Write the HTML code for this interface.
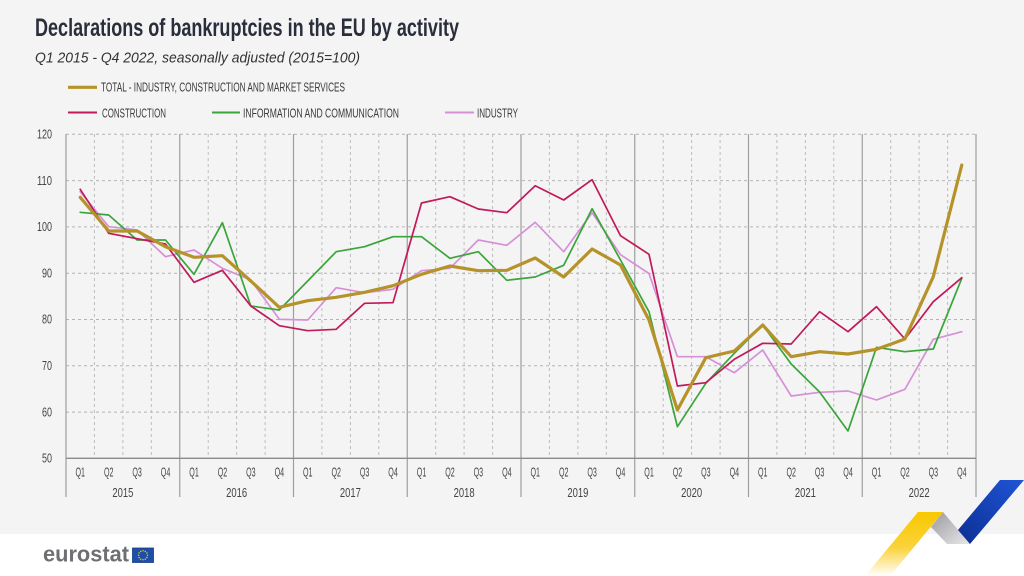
<!DOCTYPE html>
<html>
<head>
<meta charset="utf-8">
<style>
  html,body{margin:0;padding:0;background:#ffffff;}
  svg{display:block;}
  .c{font-family:"Liberation Sans Narrow","Liberation Sans",sans-serif;}
</style>
</head>
<body>
<svg width="1024" height="576" viewBox="0 0 1024 576" xmlns="http://www.w3.org/2000/svg">
  <defs>
    <linearGradient id="gy" x1="0" y1="0" x2="0" y2="1">
      <stop offset="0" stop-color="#f8c800"/>
      <stop offset="0.55" stop-color="#fad23a"/>
      <stop offset="1" stop-color="#ffffff"/>
    </linearGradient>
    <linearGradient id="gg" x1="0" y1="0" x2="1" y2="1">
      <stop offset="0" stop-color="#9a9a9e"/>
      <stop offset="1" stop-color="#e8e8ea"/>
    </linearGradient>
    <linearGradient id="gb" x1="1" y1="0" x2="0" y2="1">
      <stop offset="0" stop-color="#1f55d6"/>
      <stop offset="1" stop-color="#0c2f93"/>
    </linearGradient>
  </defs>

  <!-- backgrounds -->
  <rect x="0" y="0" width="1024" height="534" fill="#f4f4f4"/>
  <rect x="0" y="534" width="1024" height="42" fill="#ffffff"/>

  <!-- title -->
  <text x="35" y="36" font-family="'Liberation Sans Narrow','Liberation Sans',sans-serif" font-weight="bold" font-size="25" fill="#2a2e3b" textLength="424" lengthAdjust="spacingAndGlyphs">Declarations of bankruptcies in the EU by activity</text>
  <text x="35" y="62.5" font-family="'Liberation Sans','Liberation Sans Narrow',sans-serif" font-style="italic" font-size="15" fill="#333333" textLength="325" lengthAdjust="spacingAndGlyphs">Q1 2015 - Q4 2022, seasonally adjusted (2015=100)</text>

  <!-- legend -->
  <line x1="68" y1="87.3" x2="97" y2="87.3" stroke="#b5922a" stroke-width="3.2"/>
  <text class="c" x="101" y="91.7" font-size="12.5" fill="#3a3a3a" textLength="244" lengthAdjust="spacingAndGlyphs">TOTAL - INDUSTRY, CONSTRUCTION AND MARKET SERVICES</text>
  <line x1="68" y1="112.5" x2="97" y2="112.5" stroke="#c01a5a" stroke-width="2"/>
  <text class="c" x="102" y="117.5" font-size="12.5" fill="#3a3a3a" textLength="64" lengthAdjust="spacingAndGlyphs">CONSTRUCTION</text>
  <line x1="212" y1="112.5" x2="240" y2="112.5" stroke="#3aa53a" stroke-width="2"/>
  <text class="c" x="243" y="117.5" font-size="12.5" fill="#3a3a3a" textLength="156" lengthAdjust="spacingAndGlyphs">INFORMATION AND COMMUNICATION</text>
  <line x1="445" y1="112.5" x2="474" y2="112.5" stroke="#d690d8" stroke-width="2"/>
  <text class="c" x="477" y="117.5" font-size="12.5" fill="#3a3a3a" textLength="41" lengthAdjust="spacingAndGlyphs">INDUSTRY</text>

  <!-- horizontal gridlines -->
  <g stroke="#b4b4b4" stroke-width="1" stroke-dasharray="3,3">
    <line x1="66" y1="134.3" x2="976" y2="134.3"/>
    <line x1="66" y1="180.6" x2="976" y2="180.6"/>
    <line x1="66" y1="226.9" x2="976" y2="226.9"/>
    <line x1="66" y1="273.2" x2="976" y2="273.2"/>
    <line x1="66" y1="319.5" x2="976" y2="319.5"/>
    <line x1="66" y1="365.8" x2="976" y2="365.8"/>
    <line x1="66" y1="412.1" x2="976" y2="412.1"/>
  </g>

  <!-- quarter dashed verticals -->
  <g stroke="#bdbdbd" stroke-width="1" stroke-dasharray="3,3">
    <line x1="94.4" y1="134" x2="94.4" y2="458"/>
    <line x1="122.9" y1="134" x2="122.9" y2="458"/>
    <line x1="151.3" y1="134" x2="151.3" y2="458"/>
    <line x1="208.2" y1="134" x2="208.2" y2="458"/>
    <line x1="236.6" y1="134" x2="236.6" y2="458"/>
    <line x1="265.1" y1="134" x2="265.1" y2="458"/>
    <line x1="321.9" y1="134" x2="321.9" y2="458"/>
    <line x1="350.4" y1="134" x2="350.4" y2="458"/>
    <line x1="378.8" y1="134" x2="378.8" y2="458"/>
    <line x1="435.7" y1="134" x2="435.7" y2="458"/>
    <line x1="464.1" y1="134" x2="464.1" y2="458"/>
    <line x1="492.6" y1="134" x2="492.6" y2="458"/>
    <line x1="549.4" y1="134" x2="549.4" y2="458"/>
    <line x1="577.9" y1="134" x2="577.9" y2="458"/>
    <line x1="606.3" y1="134" x2="606.3" y2="458"/>
    <line x1="663.2" y1="134" x2="663.2" y2="458"/>
    <line x1="691.6" y1="134" x2="691.6" y2="458"/>
    <line x1="720.1" y1="134" x2="720.1" y2="458"/>
    <line x1="776.9" y1="134" x2="776.9" y2="458"/>
    <line x1="805.4" y1="134" x2="805.4" y2="458"/>
    <line x1="833.8" y1="134" x2="833.8" y2="458"/>
    <line x1="890.7" y1="134" x2="890.7" y2="458"/>
    <line x1="919.1" y1="134" x2="919.1" y2="458"/>
    <line x1="947.6" y1="134" x2="947.6" y2="458"/>
  </g>

  <!-- year separators -->
  <g stroke="#9e9e9e" stroke-width="1.2">
    <line x1="66" y1="134" x2="66" y2="497"/>
    <line x1="179.75" y1="134" x2="179.75" y2="497"/>
    <line x1="293.5" y1="134" x2="293.5" y2="497"/>
    <line x1="407.25" y1="134" x2="407.25" y2="497"/>
    <line x1="521" y1="134" x2="521" y2="497"/>
    <line x1="634.75" y1="134" x2="634.75" y2="497"/>
    <line x1="748.5" y1="134" x2="748.5" y2="497"/>
    <line x1="862.25" y1="134" x2="862.25" y2="497"/>
    <line x1="976" y1="134" x2="976" y2="497"/>
  </g>
  <!-- x axis -->
  <line x1="66" y1="458.3" x2="976" y2="458.3" stroke="#8a8a8a" stroke-width="1.3"/>

  <!-- y labels -->
  <g class="c" font-size="13" fill="#444444">
    <text x="37" y="138.5" textLength="15" lengthAdjust="spacingAndGlyphs">120</text>
    <text x="37" y="184.8" textLength="15" lengthAdjust="spacingAndGlyphs">110</text>
    <text x="37" y="231.1" textLength="15" lengthAdjust="spacingAndGlyphs">100</text>
    <text x="42" y="277.4" textLength="10" lengthAdjust="spacingAndGlyphs">90</text>
    <text x="42" y="323.7" textLength="10" lengthAdjust="spacingAndGlyphs">80</text>
    <text x="42" y="370" textLength="10" lengthAdjust="spacingAndGlyphs">70</text>
    <text x="42" y="416.3" textLength="10" lengthAdjust="spacingAndGlyphs">60</text>
    <text x="42" y="462.6" textLength="10" lengthAdjust="spacingAndGlyphs">50</text>
  </g>

  <!-- quarter labels -->
  <g class="c" font-size="13" fill="#444444">
    <text x="75.5" y="476.5" textLength="9.5" lengthAdjust="spacingAndGlyphs">Q1</text><text x="104" y="476.5" textLength="9.5" lengthAdjust="spacingAndGlyphs">Q2</text><text x="132.4" y="476.5" textLength="9.5" lengthAdjust="spacingAndGlyphs">Q3</text><text x="160.8" y="476.5" textLength="9.5" lengthAdjust="spacingAndGlyphs">Q4</text>
    <text x="189.3" y="476.5" textLength="9.5" lengthAdjust="spacingAndGlyphs">Q1</text><text x="217.7" y="476.5" textLength="9.5" lengthAdjust="spacingAndGlyphs">Q2</text><text x="246.1" y="476.5" textLength="9.5" lengthAdjust="spacingAndGlyphs">Q3</text><text x="274.6" y="476.5" textLength="9.5" lengthAdjust="spacingAndGlyphs">Q4</text>
    <text x="303" y="476.5" textLength="9.5" lengthAdjust="spacingAndGlyphs">Q1</text><text x="331.5" y="476.5" textLength="9.5" lengthAdjust="spacingAndGlyphs">Q2</text><text x="359.9" y="476.5" textLength="9.5" lengthAdjust="spacingAndGlyphs">Q3</text><text x="388.3" y="476.5" textLength="9.5" lengthAdjust="spacingAndGlyphs">Q4</text>
    <text x="416.8" y="476.5" textLength="9.5" lengthAdjust="spacingAndGlyphs">Q1</text><text x="445.2" y="476.5" textLength="9.5" lengthAdjust="spacingAndGlyphs">Q2</text><text x="473.6" y="476.5" textLength="9.5" lengthAdjust="spacingAndGlyphs">Q3</text><text x="502.1" y="476.5" textLength="9.5" lengthAdjust="spacingAndGlyphs">Q4</text>
    <text x="530.5" y="476.5" textLength="9.5" lengthAdjust="spacingAndGlyphs">Q1</text><text x="559" y="476.5" textLength="9.5" lengthAdjust="spacingAndGlyphs">Q2</text><text x="587.4" y="476.5" textLength="9.5" lengthAdjust="spacingAndGlyphs">Q3</text><text x="615.8" y="476.5" textLength="9.5" lengthAdjust="spacingAndGlyphs">Q4</text>
    <text x="644.3" y="476.5" textLength="9.5" lengthAdjust="spacingAndGlyphs">Q1</text><text x="672.7" y="476.5" textLength="9.5" lengthAdjust="spacingAndGlyphs">Q2</text><text x="701.1" y="476.5" textLength="9.5" lengthAdjust="spacingAndGlyphs">Q3</text><text x="729.6" y="476.5" textLength="9.5" lengthAdjust="spacingAndGlyphs">Q4</text>
    <text x="758" y="476.5" textLength="9.5" lengthAdjust="spacingAndGlyphs">Q1</text><text x="786.5" y="476.5" textLength="9.5" lengthAdjust="spacingAndGlyphs">Q2</text><text x="814.9" y="476.5" textLength="9.5" lengthAdjust="spacingAndGlyphs">Q3</text><text x="843.3" y="476.5" textLength="9.5" lengthAdjust="spacingAndGlyphs">Q4</text>
    <text x="871.8" y="476.5" textLength="9.5" lengthAdjust="spacingAndGlyphs">Q1</text><text x="900.2" y="476.5" textLength="9.5" lengthAdjust="spacingAndGlyphs">Q2</text><text x="928.6" y="476.5" textLength="9.5" lengthAdjust="spacingAndGlyphs">Q3</text><text x="957.1" y="476.5" textLength="9.5" lengthAdjust="spacingAndGlyphs">Q4</text>
  </g>
  <!-- year labels -->
  <g class="c" font-size="13" fill="#444444">
    <text x="112.4" y="497" textLength="21" lengthAdjust="spacingAndGlyphs">2015</text>
    <text x="226.1" y="497" textLength="21" lengthAdjust="spacingAndGlyphs">2016</text>
    <text x="339.9" y="497" textLength="21" lengthAdjust="spacingAndGlyphs">2017</text>
    <text x="453.6" y="497" textLength="21" lengthAdjust="spacingAndGlyphs">2018</text>
    <text x="567.4" y="497" textLength="21" lengthAdjust="spacingAndGlyphs">2019</text>
    <text x="681.1" y="497" textLength="21" lengthAdjust="spacingAndGlyphs">2020</text>
    <text x="794.9" y="497" textLength="21" lengthAdjust="spacingAndGlyphs">2021</text>
    <text x="908.6" y="497" textLength="21" lengthAdjust="spacingAndGlyphs">2022</text>
  </g>

  <!-- series -->
  <g fill="none" stroke-linejoin="round" stroke-linecap="round">
    <polyline stroke="#d690d8" stroke-width="1.7" points="80.2,191.7 108.7,226.7 137.1,230 165.5,256.7 194,250 222.4,268.3 250.8,280 279.3,319.3 307.7,320 336.2,287.7 364.6,292.7 393,289.3 421.5,270.7 449.9,268.3 478.3,240 506.8,245.3 535.2,222.3 563.7,251.7 592.1,212.7 620.5,254.7 649,273.5 677.4,356.7 705.8,356.7 734.3,372.7 762.7,350 791.2,396 819.6,392.3 848,391 876.5,400 904.9,389.3 933.3,339.3 961.8,331.7"/>
    <polyline stroke="#3aa53a" stroke-width="1.7" points="80.2,212.3 108.7,215 137.1,240 165.5,240 194,274.3 222.4,222.7 250.8,306 279.3,310 307.7,281 336.2,251.7 364.6,246.7 393,236.7 421.5,236.7 449.9,258.3 478.3,251.7 506.8,280.3 535.2,277 563.7,265.3 592.1,208.7 620.5,260 649,311.7 677.4,426.7 705.8,383.3 734.3,353.3 762.7,325 791.2,364 819.6,392 848,431 876.5,347.3 904.9,351.7 933.3,349 961.8,278.3"/>
    <polyline stroke="#c01a5a" stroke-width="1.7" points="80.2,189.3 108.7,233.3 137.1,238.7 165.5,244 194,282.3 222.4,270.3 250.8,306 279.3,325.7 307.7,330.7 336.2,329.3 364.6,303.3 393,302.7 421.5,203 449.9,196.7 478.3,209 506.8,212.7 535.2,185.7 563.7,200 592.1,179.7 620.5,235.7 649,254.3 677.4,386 705.8,382.7 734.3,359.3 762.7,343.3 791.2,344 819.6,311.7 848,331.7 876.5,306.7 904.9,339 933.3,301.7 961.8,277.7"/>
    <polyline stroke="#b5922a" stroke-width="3.2" points="80.2,197.3 108.7,231 137.1,231 165.5,246.7 194,257.3 222.4,255.7 250.8,281 279.3,307.3 307.7,300.7 336.2,297.3 364.6,292.3 393,285.7 421.5,274.3 449.9,266 478.3,270.7 506.8,270.3 535.2,258 563.7,277 592.1,249 620.5,265 649,320 677.4,410 705.8,357.7 734.3,351 762.7,325 791.2,356.7 819.6,351.7 848,354 876.5,349.3 904.9,339 933.3,276.7 961.8,165"/>
  </g>

  <!-- eurostat logo -->
  <text x="43" y="561.7" font-family="'Liberation Sans',sans-serif" font-weight="bold" font-size="22" fill="#6d6f73" textLength="86" lengthAdjust="spacingAndGlyphs">eurostat</text>
  <rect x="132.5" y="548" width="21" height="14.5" fill="#1f4ea6" stroke="#163d8a" stroke-width="0.8"/>
  <g fill="#ffd400">
    <circle cx="143" cy="550.8" r="0.7"/>
    <circle cx="145.25" cy="551.4" r="0.7"/>
    <circle cx="146.9" cy="553" r="0.7"/>
    <circle cx="147.5" cy="555.3" r="0.7"/>
    <circle cx="146.9" cy="557.6" r="0.7"/>
    <circle cx="145.25" cy="559.2" r="0.7"/>
    <circle cx="143" cy="559.8" r="0.7"/>
    <circle cx="140.75" cy="559.2" r="0.7"/>
    <circle cx="139.1" cy="557.6" r="0.7"/>
    <circle cx="138.5" cy="555.3" r="0.7"/>
    <circle cx="139.1" cy="553" r="0.7"/>
    <circle cx="140.75" cy="551.4" r="0.7"/>
  </g>

  <!-- decorative corner -->
  <polygon points="918,512 943,512 890,576 865,576" fill="url(#gy)"/>
  <polygon points="943,512 970,544 947,544 931,527" fill="url(#gg)"/>
  <polygon points="958,530 1000,480 1024,480 970,544" fill="url(#gb)"/>
</svg>
</body>
</html>
